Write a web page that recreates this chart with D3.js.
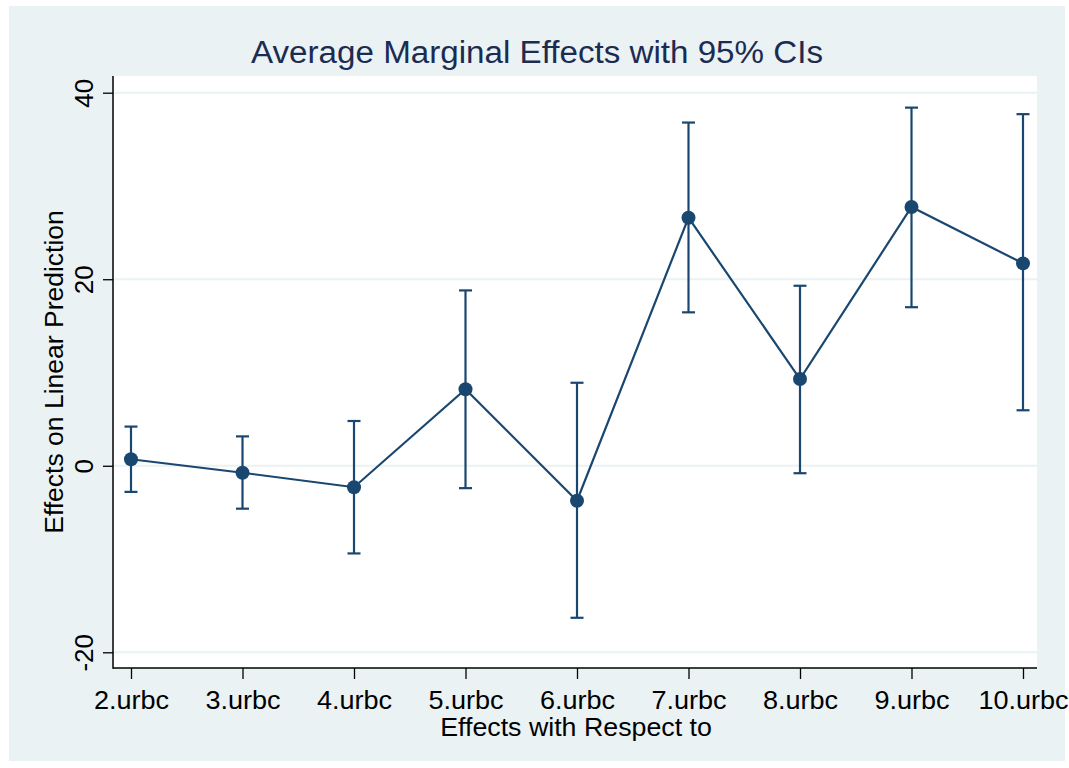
<!DOCTYPE html>
<html>
<head>
<meta charset="utf-8">
<script src="https://cdn.jsdelivr.net/npm/d3@7"></script>
<style>
  body { margin: 0; background: #fff; }
  text { font-family: Arial, "Liberation Sans", sans-serif; }
</style>
</head>
<body>
<div id="chart"></div>
<script>
// categories and estimates
var categories = ["2.urbc", "3.urbc", "4.urbc", "5.urbc", "6.urbc", "7.urbc", "8.urbc", "9.urbc", "10.urbc"];
var effects = [0.7, -0.75, -2.3, 8.2, -3.75, 26.6, 9.3, 27.75, 21.7];
var lower = [-2.8, -4.6, -9.4, -2.4, -16.3, 16.45, -0.8, 17.0, 5.95];
var upper = [4.2, 3.15, 4.8, 18.8, 8.9, 36.8, 19.3, 38.4, 37.7];
var yTicks = [-20, 0, 20, 40];

var svgWidth = 1069;
var svgHeight = 768;
var navy = "#1a476f";
var bg = "#eaf2f3";

// plot region
var plot = { left: 113, right: 1037, top: 76, bottom: 668 };

var svg = d3.select("#chart")
  .append("svg")
  .attr("width", svgWidth)
  .attr("height", svgHeight);

// outer graph region
svg.append("rect")
  .attr("x", 9).attr("y", 6)
  .attr("width", 1056).attr("height", 755)
  .attr("fill", bg);

svg.append("rect")
  .attr("x", plot.left).attr("y", plot.top)
  .attr("width", plot.right - plot.left)
  .attr("height", plot.bottom - plot.top)
  .attr("fill", "#fff");

var data = categories.map((c, i) => ({ cat: c, b: effects[i], lo: lower[i], hi: upper[i] }));

var x = d3.scalePoint()
  .domain(categories)
  .range([131, 1023]);

var y = d3.scaleLinear()
  .domain([-20, 40])
  .range([652.3, 92.7]);

// gridlines
svg.append("g")
  .selectAll("line")
  .data(yTicks)
  .enter()
  .append("line")
  .attr("x1", plot.left).attr("x2", plot.right)
  .attr("y1", d => y(d)).attr("y2", d => y(d))
  .attr("stroke", bg)
  .attr("stroke-width", 2);

// y axis
var yAxis = svg.append("g")
  .attr("transform", `translate(${plot.left},0)`)
  .call(d3.axisLeft(y).tickValues(yTicks).tickSize(10).tickPadding(0).tickFormat(d3.format("d")));
yAxis.select(".domain").remove();
yAxis.selectAll(".tick line").attr("stroke", "#000").attr("stroke-width", 1.3);
yAxis.selectAll(".tick text")
  .attr("x", null).attr("dy", null)
  .attr("transform", "translate(-20,0) rotate(-90)")
  .attr("text-anchor", "middle")
  .attr("font-size", 26)
  .attr("fill", "#000")
  .text(d => d < 0 ? "-" + Math.abs(d) : d);

// x axis
var xAxis = svg.append("g")
  .attr("transform", `translate(0,${plot.bottom})`)
  .call(d3.axisBottom(x).tickSize(11).tickPadding(0));
xAxis.select(".domain").remove();
xAxis.selectAll(".tick line").attr("stroke", "#000").attr("stroke-width", 1.3);
xAxis.selectAll(".tick text")
  .attr("y", 41).attr("dy", null)
  .attr("font-size", 26)
  .attr("transform", "scale(1.04,1)")
  .attr("fill", "#000");

// axis lines
svg.append("line")
  .attr("x1", plot.left).attr("x2", plot.left)
  .attr("y1", plot.top).attr("y2", plot.bottom + 0.7)
  .attr("stroke", "#000").attr("stroke-width", 1.5);
svg.append("line")
  .attr("x1", plot.left).attr("x2", plot.right)
  .attr("y1", plot.bottom).attr("y2", plot.bottom)
  .attr("stroke", "#000").attr("stroke-width", 1.5);

// confidence intervals
var ci = svg.append("g").attr("stroke", navy).attr("stroke-width", 2.2);
ci.selectAll(".ci")
  .data(data)
  .enter()
  .append("line")
  .attr("x1", d => x(d.cat)).attr("x2", d => x(d.cat))
  .attr("y1", d => y(d.lo)).attr("y2", d => y(d.hi));
ci.selectAll(".capTop")
  .data(data)
  .enter()
  .append("line")
  .attr("x1", d => x(d.cat) - 6.5).attr("x2", d => x(d.cat) + 6.5)
  .attr("y1", d => y(d.hi)).attr("y2", d => y(d.hi));
ci.selectAll(".capBot")
  .data(data)
  .enter()
  .append("line")
  .attr("x1", d => x(d.cat) - 6.5).attr("x2", d => x(d.cat) + 6.5)
  .attr("y1", d => y(d.lo)).attr("y2", d => y(d.lo));

// connecting line
var line = d3.line()
  .x(d => x(d.cat))
  .y(d => y(d.b));

svg.append("path")
  .datum(data)
  .attr("d", line)
  .attr("fill", "none")
  .attr("stroke", navy)
  .attr("stroke-width", 2.2);

// points
svg.selectAll(".pt")
  .data(data)
  .enter()
  .append("circle")
  .attr("cx", d => x(d.cat))
  .attr("cy", d => y(d.b))
  .attr("r", 7)
  .attr("fill", navy);

// titles
svg.append("text")
  .attr("transform", "translate(537,63) scale(1.07,1)")
  .attr("text-anchor", "middle")
  .attr("font-size", 31)
  .attr("fill", "#1c2b52")
  .text("Average Marginal Effects with 95% CIs");

svg.append("text")
  .attr("transform", "translate(576,736) scale(1.03,1)")
  .attr("text-anchor", "middle")
  .attr("font-size", 26)
  .attr("fill", "#000")
  .text("Effects with Respect to");

svg.append("text")
  .attr("transform", "translate(63,372) rotate(-90)")
  .attr("text-anchor", "middle")
  .attr("font-size", 26.5)
  .attr("fill", "#000")
  .text("Effects on Linear Prediction");
</script>
</body>
</html>
